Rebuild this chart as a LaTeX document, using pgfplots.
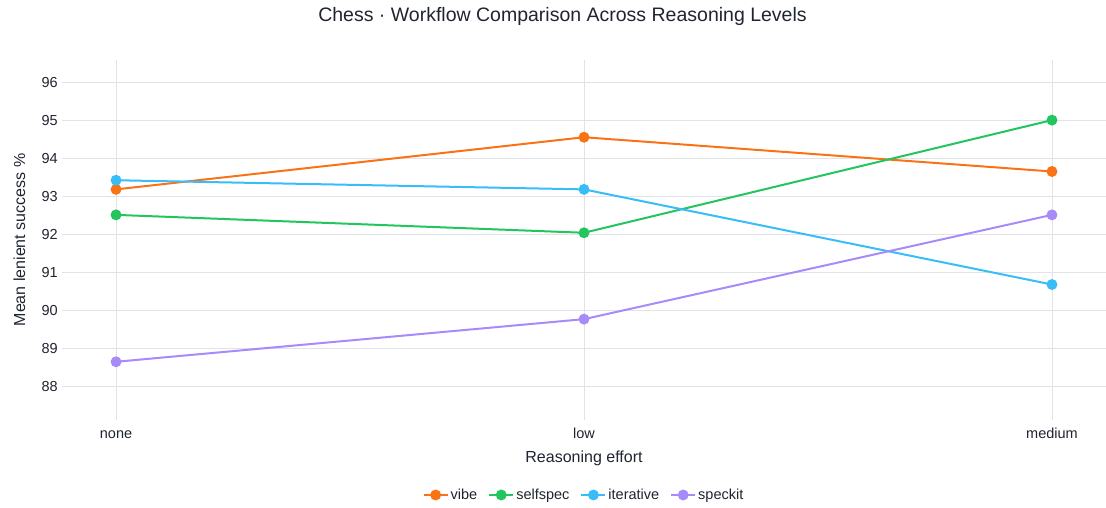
\documentclass[border=0pt]{standalone}
\usepackage{fontspec}
\setmainfont{Liberation Sans}
\usepackage{pgfplots}
\pgfplotsset{compat=1.18}

\definecolor{vibe}{HTML}{F97316}
\definecolor{selfspec}{HTML}{22C55E}
\definecolor{iterative}{HTML}{38BDF8}
\definecolor{speckit}{HTML}{A78BFA}
\definecolor{gridc}{HTML}{E0E3E7}
\definecolor{txt}{HTML}{1F2430}

\begin{document}
\begin{tikzpicture}[x=1pt,y=1pt]
\useasboundingbox (0,0) rectangle (1106,508);

% title and axis titles
\node[anchor=base, text=txt, font=\fontsize{19.5}{23}\selectfont] at (562.5,486) {Chess · Workflow Comparison Across Reasoning Levels};
\node[anchor=base, text=txt, font=\fontsize{16}{19}\selectfont] at (584,45) {Reasoning effort};
\node[anchor=base, rotate=90, text=txt, font=\fontsize{16}{19}\selectfont] at (25,268) {Mean lenient success \%};

\begin{axis}[
  at={(62pt,88pt)}, anchor=south west,
  scale only axis, width=1044pt, height=360pt,
  xmin=-0.1155, xmax=2.1155,
  ymin=87.12, ymax=96.58,
  xtick={0,1,2}, xticklabels={none,low,medium},
  ytick={88,89,...,96},
  grid=major,
  grid style={gridc, line width=0.9pt},
  axis line style={draw=none},
  major tick length=0pt,
  tick label style={text=txt, font=\fontsize{14.5}{17}\selectfont},
  /pgf/number format/assume math mode=true,
  yticklabel style={inner sep=0pt, xshift=-4pt, anchor=east},
  xticklabel style={inner sep=0pt, text height=10.5pt, text depth=3pt, yshift=-7.5pt, anchor=north},
  every axis plot/.append style={line width=2pt, mark=*, mark size=4.4pt, mark options={solid}},
  legend columns=4,
  legend style={at={(0.5,-0.2083)}, anchor=center, draw=none, fill=none,
    font=\fontsize{14.5}{17}\selectfont, text=txt,
    /tikz/every even column/.append style={column sep=9pt},
    inner sep=0pt, nodes={inner sep=2pt}},
  legend image code/.code={\draw[#1, mark repeat=2, mark phase=2] plot coordinates {(0pt,0pt) (12pt,0pt) (24pt,0pt)};},
]
\addplot[color=vibe] coordinates {(0,93.18) (1,94.55) (2,93.65)};
\addlegendentry{vibe}
\addplot[color=selfspec] coordinates {(0,92.51) (1,92.04) (2,95.00)};
\addlegendentry{selfspec}
\addplot[color=iterative] coordinates {(0,93.42) (1,93.18) (2,90.68)};
\addlegendentry{iterative}
\addplot[color=speckit] coordinates {(0,88.65) (1,89.77) (2,92.51)};
\addlegendentry{speckit}
\end{axis}
\end{tikzpicture}
\end{document}
